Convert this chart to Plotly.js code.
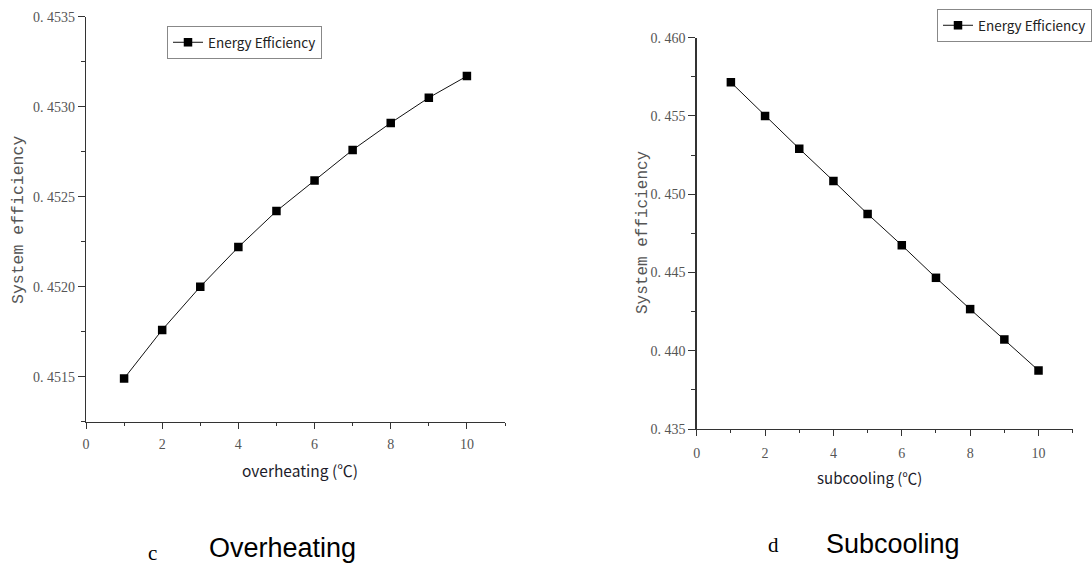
<!DOCTYPE html>
<html>
<head>
<meta charset="utf-8">
<script src="https://cdn.plot.ly/plotly-3.0.1.min.js"></script>
<style>html,body{margin:0;padding:0;background:#fff;}#chart{width:1092px;height:564px;}</style>
</head>
<body>
<div id="chart"></div>
<script>
// ---- data ----
var overheatX = [1, 2, 3, 4, 5, 6, 7, 8, 9, 10];
var overheatY = [0.45149, 0.45176, 0.45200, 0.45222, 0.45242, 0.45259, 0.45276, 0.45291, 0.45305, 0.45317];
var subcoolX = [1, 2, 3, 4, 5, 6, 7, 8, 9, 10];
var subcoolY = [0.45715, 0.45500, 0.45291, 0.45085, 0.44874, 0.44674, 0.44466, 0.44266, 0.44072, 0.43874];
var seriesName = "Energy Efficiency";
var leftYTicks = [0.4515, 0.4520, 0.4525, 0.4530, 0.4535];
var leftYLabels = ["0. 4515", "0. 4520", "0. 4525", "0. 4530", "0. 4535"];
var rightYTicks = [0.435, 0.440, 0.445, 0.450, 0.455, 0.460];
var rightYLabels = ["0. 435", "0. 440", "0. 445", "0. 450", "0. 455", "0. 460"];
var xTicks = [0, 2, 4, 6, 8, 10];
var xLabels = ["0", "2", "4", "6", "8", "10"];

var W = 1092, H = 564;
function px(v){ return v / W; }
function py(v){ return 1 - v / H; }

var tickFont = {family: "Liberation Serif, serif", size: 14, color: "#555"};
var axisCommon = {
  showline: true, linecolor: "#333", linewidth: 1.3, mirror: false,
  showgrid: false, zeroline: false, ticks: "outside", tickcolor: "#333",
  tickfont: tickFont, fixedrange: true
};

var traceStyle = {
  mode: "lines+markers",
  line: {color: "#111", width: 1},
  marker: {symbol: "square", size: 8.5, color: "#000"}
};

var traces = [
  Object.assign({x: overheatX, y: overheatY, name: seriesName, xaxis: "x", yaxis: "y", legend: "legend"}, traceStyle),
  Object.assign({x: subcoolX, y: subcoolY, name: seriesName, xaxis: "x2", yaxis: "y2", legend: "legend2"}, traceStyle)
];

var legendCommon = {
  bgcolor: "#fff", bordercolor: "#888", borderwidth: 1,
  font: {family: "Noto Sans CJK SC, Noto Sans, sans-serif", size: 13.5, color: "#222"},
  xanchor: "left", yanchor: "top", itemwidth: 30, tracegroupgap: 0
};

var layout = {
  width: W, height: H,
  margin: {l: 0, r: 0, t: 0, b: 0},
  paper_bgcolor: "#fff", plot_bgcolor: "#fff",
  showlegend: true,
  xaxis: Object.assign({}, axisCommon, {
    domain: [px(86), px(505)], range: [0, 11], anchor: "y",
    tickvals: xTicks, ticktext: xLabels, ticklen: 6, ticklabelstandoff: 3,
    minor: {dtick: 1, tick0: 0, ticklen: 3, tickcolor: "#333", ticks: "outside"}
  }),
  yaxis: Object.assign({}, axisCommon, {
    domain: [py(421.7), py(16.7)], range: [0.45125, 0.4535], anchor: "x",
    tickvals: leftYTicks, ticktext: leftYLabels, ticklen: 7,
    minor: {dtick: 0.00025, tick0: 0.45125, ticklen: 4, tickcolor: "#333", ticks: "outside"}
  }),
  xaxis2: Object.assign({}, axisCommon, {
    domain: [px(696.7), px(1072.7)], range: [0, 11], anchor: "y2",
    tickvals: xTicks, ticktext: xLabels, ticklen: 6, ticklabelstandoff: 5,
    minor: {dtick: 1, tick0: 0, ticklen: 3, tickcolor: "#333", ticks: "outside"}
  }),
  yaxis2: Object.assign({}, axisCommon, {
    domain: [py(429), py(37.7)], range: [0.435, 0.460], anchor: "x2",
    tickvals: rightYTicks, ticktext: rightYLabels, ticklen: 7,
    minor: {dtick: 0.0025, tick0: 0.435, ticklen: 4, tickcolor: "#333", ticks: "outside"}
  }),
  legend: Object.assign({}, legendCommon, {x: px(167), y: py(26)}),
  legend2: Object.assign({}, legendCommon, {x: px(937), y: py(9)}),
  annotations: [
    {text: "System efficiency", xref: "paper", yref: "paper", x: px(18), y: py(220), textangle: -90,
     showarrow: false, xanchor: "center", yanchor: "middle",
     font: {family: "Liberation Mono, monospace", size: 16.5, color: "#555"}},
    {text: "System efficiency", xref: "paper", yref: "paper", x: px(643), y: py(232), textangle: -90,
     showarrow: false, xanchor: "center", yanchor: "middle",
     font: {family: "Liberation Mono, monospace", size: 16, color: "#555"}},
    {text: "overheating (\u2103)", xref: "paper", yref: "paper", x: px(300), y: py(470),
     showarrow: false, xanchor: "center", yanchor: "middle",
     font: {family: "Noto Sans CJK SC, sans-serif", size: 15.5, color: "#1c1c2a"}},
    {text: "subcooling (\u2103)", xref: "paper", yref: "paper", x: px(870), y: py(477),
     showarrow: false, xanchor: "center", yanchor: "middle",
     font: {family: "Noto Sans CJK SC, sans-serif", size: 15, color: "#1c1c2a"}},
    {text: "c", xref: "paper", yref: "paper", x: px(152), y: py(553),
     showarrow: false, xanchor: "center", yanchor: "middle",
     font: {family: "Liberation Serif, serif", size: 21, color: "#000"}},
    {text: "Overheating", xref: "paper", yref: "paper", x: px(282), y: py(548),
     showarrow: false, xanchor: "center", yanchor: "middle",
     font: {family: "Liberation Sans, Arial, sans-serif", size: 27, color: "#000"}},
    {text: "d", xref: "paper", yref: "paper", x: px(773), y: py(545),
     showarrow: false, xanchor: "center", yanchor: "middle",
     font: {family: "Liberation Serif, serif", size: 21, color: "#000"}},
    {text: "Subcooling", xref: "paper", yref: "paper", x: px(893), y: py(544),
     showarrow: false, xanchor: "center", yanchor: "middle",
     font: {family: "Liberation Sans, Arial, sans-serif", size: 27, color: "#000"}}
  ]
};

Plotly.newPlot("chart", traces, layout, {displayModeBar: false, staticPlot: true});
</script>
</body>
</html>
